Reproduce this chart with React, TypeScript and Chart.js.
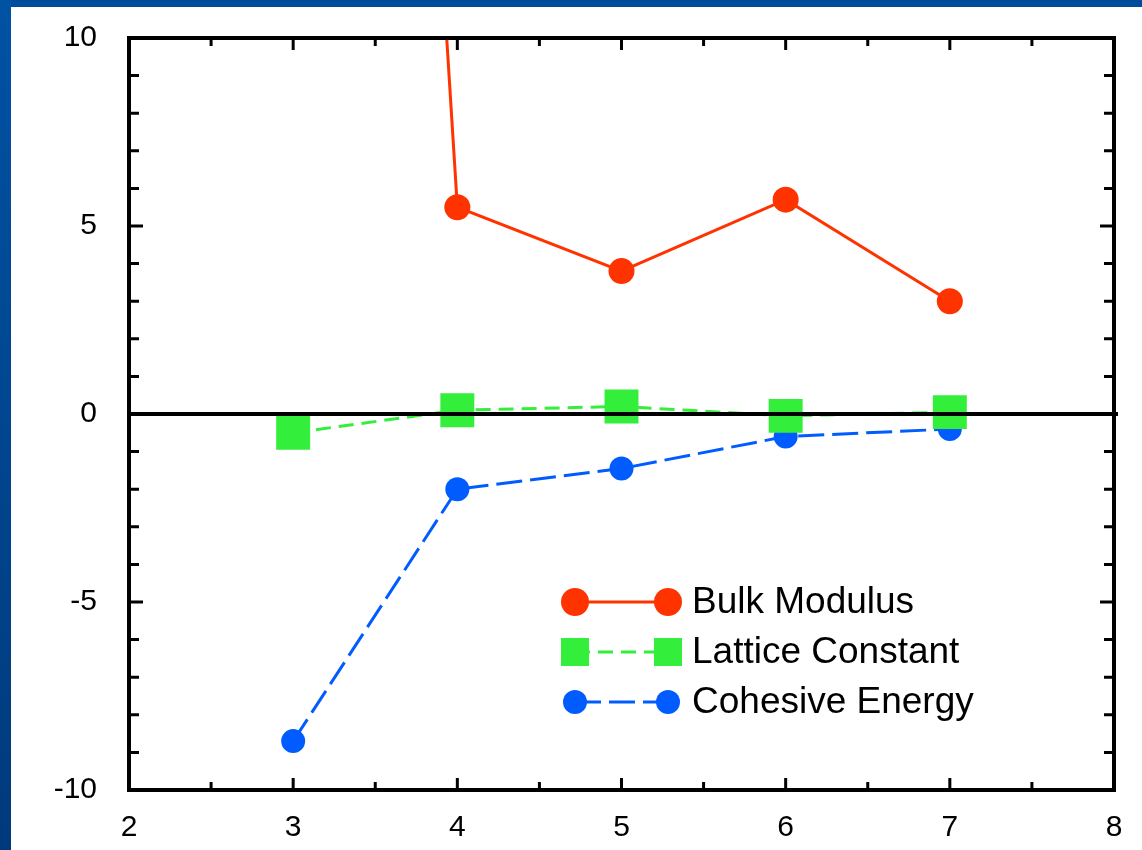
import React, { useEffect, useRef } from "react";
import { Chart, registerables } from "chart.js";

Chart.register(...registerables);

// ---- data ----
const xValues = [3, 4, 5, 6, 7];
const bulkModulus = [75, 5.5, 3.8, 5.7, 3.0];
const latticeConstant = [-0.5, 0.1, 0.2, -0.05, 0.05];
const cohesiveEnergy = [-8.7, -2.0, -1.45, -0.6, -0.4];
const seriesNames = ["Bulk Modulus", "Lattice Constant", "Cohesive Energy"];
const xRange = [2, 8];
const yRange = [-10, 10];

const RED = "#ff3300";
const GREEN = "#33ee3a";
const BLUE = "#005cff";
const FONT = "'Liberation Sans', Arial, sans-serif";

function drawMarker(ctx: CanvasRenderingContext2D, style: string, x: number, y: number, size: number, color: string) {
  ctx.save();
  ctx.fillStyle = color;
  ctx.setLineDash([]);
  if (style === "rect") {
    ctx.fillRect(x - size / 2, y - size / 2, size, size);
  } else {
    ctx.beginPath();
    ctx.arc(x, y, size / 2, 0, Math.PI * 2);
    ctx.fill();
  }
  ctx.restore();
}

const framePlugin = {
  id: "framePlugin",
  afterDatasetsDraw(chart: any) {
    const { ctx, chartArea } = chart;
    const { left, right, top, bottom } = chartArea;
    const xs = chart.scales.x;
    const ys = chart.scales.y;
    ctx.save();
    ctx.setLineDash([]);
    ctx.strokeStyle = "#000";
    // zero line
    const y0 = ys.getPixelForValue(0);
    ctx.lineWidth = 4;
    ctx.beginPath();
    ctx.moveTo(left, y0);
    ctx.lineTo(right + 4, y0);
    ctx.stroke();
    // frame
    ctx.strokeRect(left, top, right - left, bottom - top);
    // inward ticks
    ctx.lineWidth = 3;
    for (let v = xRange[0]; v <= xRange[1] + 1e-9; v += 0.5) {
      const px = xs.getPixelForValue(v);
      const len = Number.isInteger(v) ? 12 : 8;
      ctx.beginPath();
      ctx.moveTo(px, bottom);
      ctx.lineTo(px, bottom - len);
      ctx.moveTo(px, top);
      ctx.lineTo(px, top + len);
      ctx.stroke();
    }
    for (let v = yRange[0]; v <= yRange[1]; v += 1) {
      const py = ys.getPixelForValue(v);
      const len = v % 5 === 0 ? 14 : 10;
      ctx.beginPath();
      ctx.moveTo(left, py);
      ctx.lineTo(left + len, py);
      ctx.moveTo(right, py);
      ctx.lineTo(right - len, py);
      ctx.stroke();
    }
    ctx.restore();
  },
  afterDraw(chart: any) {
    const { ctx } = chart;
    const rows = [
      { y: 602, style: "circle", size: 28 },
      { y: 652, style: "rect", size: 28 },
      { y: 702, style: "circle", size: 24 },
    ];
    const x1 = 575;
    const x2 = 668;
    const tx = 692;
    chart.data.datasets.forEach((ds: any, i: number) => {
      const r = rows[i];
      ctx.save();
      ctx.strokeStyle = ds.borderColor;
      ctx.lineWidth = ds.borderWidth;
      ctx.setLineDash(ds.borderDash || []);
      ctx.beginPath();
      ctx.moveTo(x1, r.y);
      ctx.lineTo(x2, r.y);
      ctx.stroke();
      ctx.restore();
      drawMarker(ctx, r.style, x1, r.y, r.size, ds.backgroundColor);
      drawMarker(ctx, r.style, x2, r.y, r.size, ds.backgroundColor);
      ctx.save();
      ctx.fillStyle = "#000";
      ctx.font = `37px ${FONT}`;
      ctx.textBaseline = "middle";
      ctx.textAlign = "left";
      ctx.fillText(ds.label, tx, r.y + 1);
      ctx.restore();
    });
  },
};

export default function App() {
  const ref = useRef<HTMLCanvasElement | null>(null);

  useEffect(() => {
    if (!ref.current) return;
    const toPts = (ys: number[]) => xValues.map((x, i) => ({ x, y: ys[i] }));
    const chart = new Chart(ref.current, {
      type: "line",
      data: {
        datasets: [
          {
            label: seriesNames[0],
            data: toPts(bulkModulus),
            borderColor: RED,
            backgroundColor: RED,
            borderWidth: 3,
            pointStyle: "circle",
            pointRadius: 13,
            pointBorderWidth: 0,
            pointHoverRadius: 13,
            tension: 0,
          },
          {
            label: seriesNames[1],
            data: toPts(latticeConstant),
            borderColor: GREEN,
            backgroundColor: GREEN,
            borderWidth: 3,
            borderDash: [15, 8],
            pointStyle: "rect",
            pointRadius: 24,
            pointBorderWidth: 0,
            pointHoverRadius: 24,
            tension: 0,
          },
          {
            label: seriesNames[2],
            data: toPts(cohesiveEnergy),
            borderColor: BLUE,
            backgroundColor: BLUE,
            borderWidth: 3,
            borderDash: [26, 8],
            pointStyle: "circle",
            pointRadius: 12,
            pointBorderWidth: 0,
            pointHoverRadius: 12,
            tension: 0,
          },
        ],
      },
      options: {
        animation: false,
        responsive: false,
        maintainAspectRatio: false,
        layout: { padding: { top: 38, right: 28, left: 0, bottom: 0 } },
        plugins: {
          legend: { display: false },
          tooltip: { enabled: false },
        },
        scales: {
          x: {
            type: "linear",
            min: xRange[0],
            max: xRange[1],
            grid: { display: false, drawTicks: false },
            border: { display: false },
            ticks: {
              stepSize: 1,
              color: "#000",
              padding: 20,
              font: { family: FONT, size: 30 },
            },
            afterFit: (s: any) => {
              s.height = 60;
              s.paddingLeft = 0;
              s.paddingRight = 0;
            },
          },
          y: {
            type: "linear",
            min: yRange[0],
            max: yRange[1],
            grid: { display: false, drawTicks: false },
            border: { display: false },
            ticks: {
              stepSize: 5,
              color: "#000",
              padding: 32,
              font: { family: FONT, size: 30 },
            },
            afterFit: (s: any) => {
              s.width = 129;
              s.paddingTop = 0;
              s.paddingBottom = 0;
            },
          },
        },
      },
      plugins: [framePlugin],
    });
    return () => chart.destroy();
  }, []);

  return (
    <div style={{ position: "absolute", left: 0, top: 0, width: 1142, height: 850, background: "#fff", overflow: "hidden" }}>
      <canvas ref={ref} width={1142} height={850} style={{ position: "absolute", left: 0, top: 0, display: "block" }} />
      <div style={{ position: "absolute", left: 0, top: 0, width: 1142, height: 7, background: "#004c9c" }} />
      <div style={{ position: "absolute", left: 0, top: 0, width: 11, height: 850, background: "linear-gradient(#0052a3, #003a7c)" }} />
    </div>
  );
}
